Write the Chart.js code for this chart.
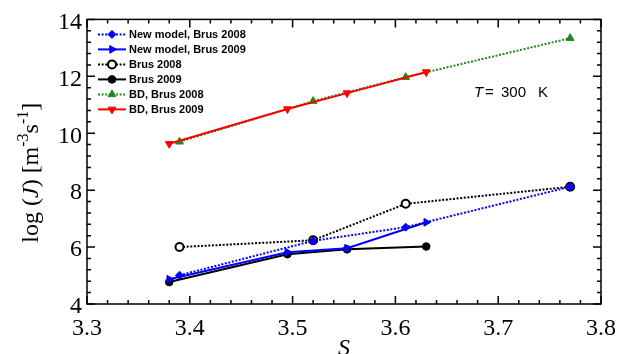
<!DOCTYPE html>
<html>
<head>
<meta charset="utf-8">
<script src="https://cdn.jsdelivr.net/npm/chart.js@4/dist/chart.umd.min.js"></script>
<style>
  html, body { margin: 0; padding: 0; background: #fff; }
  #wrap { width: 633px; height: 354px; }
</style>
</head>
<body>
<div id="wrap"><canvas id="c" width="633" height="354"></canvas></div>
<script>
// Supersaturation values of the two experimental sets
const supersat2008 = [3.39, 3.52, 3.61, 3.77];
const supersat2009 = [3.38, 3.495, 3.553, 3.63];

// log10 of nucleation rate J [m^-3 s^-1]
const newModel2008 = [5.01, 6.22, 6.70, 8.12];
const newModel2009 = [4.87, 5.82, 5.96, 6.87];
const brus2008     = [6.00, 6.24, 7.52, 8.12];
const brus2009     = [4.77, 5.75, 5.92, 6.02];
const bd2008       = [9.70, 11.13, 11.97, 13.34];
const bd2009       = [9.63, 10.85, 11.41, 12.15];

const seriesLabels = [
  'New model, Brus 2008',
  'New model, Brus 2009',
  'Brus 2008',
  'Brus 2009',
  'BD, Brus 2008',
  'BD, Brus 2009'
];

// axis ranges and tick steps
const xRange = [3.3, 3.8];
const yRange = [4, 14];
const xMajorStep = 0.1, xMinorPerMajor = 5;
const yMajorStep = 2,   yMinorPerMajor = 5;

const serif = "'Liberation Serif', 'Times New Roman', Times, serif";
const sans  = "'Liberation Sans', Arial, Helvetica, sans-serif";

const BLUE = '#0000ff', BLACK = '#000000', GREEN = '#1e8a1e', RED = '#ff0000';
const DOTS = [2, 1.6];

function pts(xs, ys) { return xs.map((v, i) => ({ x: v, y: ys[i] })); }

const datasets = [
  { label: seriesLabels[0], data: pts(supersat2008, newModel2008), borderColor: BLUE, backgroundColor: BLUE,
    borderDash: DOTS, pointStyle: 'rectRot', pointRadius: 4, pointBackgroundColor: BLUE, pointBorderColor: BLUE, pointBorderWidth: 1, order: 0 },
  { label: seriesLabels[1], data: pts(supersat2009, newModel2009), borderColor: BLUE, backgroundColor: BLUE,
    pointStyle: 'triangle', pointRotation: 90, pointRadius: 4.5, pointBackgroundColor: BLUE, pointBorderColor: BLUE, pointBorderWidth: 1, order: 1 },
  { label: seriesLabels[2], data: pts(supersat2008, brus2008), borderColor: BLACK, backgroundColor: '#fff',
    borderDash: DOTS, pointStyle: 'circle', pointRadius: 4, pointBackgroundColor: '#fff', pointBorderColor: BLACK, pointBorderWidth: 2, order: 2 },
  { label: seriesLabels[3], data: pts(supersat2009, brus2009), borderColor: BLACK, backgroundColor: BLACK,
    pointStyle: 'circle', pointRadius: 3.8, pointBackgroundColor: BLACK, pointBorderColor: BLACK, pointBorderWidth: 1, order: 3 },
  { label: seriesLabels[4], data: pts(supersat2008, bd2008), borderColor: GREEN, backgroundColor: GREEN,
    borderDash: DOTS, pointStyle: 'triangle', pointRadius: 4.5, pointBackgroundColor: GREEN, pointBorderColor: GREEN, pointBorderWidth: 1, order: 5 },
  { label: seriesLabels[5], data: pts(supersat2009, bd2009), borderColor: RED, backgroundColor: RED,
    pointStyle: 'triangle', pointRotation: 180, pointRadius: 4.5, pointBackgroundColor: RED, pointBorderColor: RED, pointBorderWidth: 1, order: 4 }
];
datasets.forEach(d => { d.borderWidth = 2; d.tension = 0; d.fill = false; });

// Closed frame with inward major/minor ticks on all four sides
const frameTicks = {
  id: 'frameTicks',
  afterDatasetsDraw(chart) {
    const { ctx, chartArea: a, scales: { x, y } } = chart;
    ctx.save();
    ctx.strokeStyle = '#000';
    ctx.lineWidth = 1.5;
    ctx.beginPath();
    const nx = Math.round((xRange[1] - xRange[0]) / xMajorStep) * xMinorPerMajor;
    for (let i = 0; i <= nx; i++) {
      const px = x.getPixelForValue(xRange[0] + i * xMajorStep / xMinorPerMajor);
      const len = i % xMinorPerMajor === 0 ? 8 : 4;
      ctx.moveTo(px, a.bottom); ctx.lineTo(px, a.bottom - len);
      ctx.moveTo(px, a.top);    ctx.lineTo(px, a.top + len);
    }
    const ny = Math.round((yRange[1] - yRange[0]) / yMajorStep) * yMinorPerMajor;
    for (let i = 0; i <= ny; i++) {
      const py = y.getPixelForValue(yRange[0] + i * yMajorStep / yMinorPerMajor);
      const len = i % yMinorPerMajor === 0 ? 8 : 4;
      ctx.moveTo(a.left, py);  ctx.lineTo(a.left + len, py);
      ctx.moveTo(a.right, py); ctx.lineTo(a.right - len, py);
    }
    ctx.stroke();
    ctx.strokeRect(a.left, a.top, a.right - a.left, a.bottom - a.top);
    ctx.restore();
  }
};

// Legend inside the plot: line sample + marker + bold label
const innerLegend = {
  id: 'innerLegend',
  afterDraw(chart) {
    const { ctx, chartArea: a } = chart;
    ctx.save();
    chart.data.datasets.forEach((ds, i) => {
      const yy = a.top + 15 + i * 15;
      const x0 = a.left + 11, x1 = a.left + 39, xm = (x0 + x1) / 2;
      ctx.strokeStyle = ds.borderColor;
      ctx.lineWidth = 2;
      ctx.setLineDash(ds.borderDash || []);
      ctx.beginPath(); ctx.moveTo(x0, yy); ctx.lineTo(x1, yy); ctx.stroke();
      ctx.setLineDash([]);
      const el = chart.getDatasetMeta(i).data[0];
      const o = el.options;
      ctx.fillStyle = o.backgroundColor;
      ctx.strokeStyle = o.borderColor;
      ctx.lineWidth = o.borderWidth;
      Chart.helpers.drawPoint(ctx, { pointStyle: o.pointStyle, radius: o.radius, rotation: o.rotation, borderWidth: o.borderWidth }, xm, yy);
      ctx.fillStyle = '#000';
      ctx.font = "bold 11px " + sans;
      ctx.textAlign = 'left';
      ctx.textBaseline = 'middle';
      ctx.fillText(ds.label, x1 + 3, yy + 0.5);
    });
    ctx.restore();
  }
};

// Rotated y-axis title with italic J and superscripts, plus temperature note
const extraText = {
  id: 'extraText',
  afterDraw(chart) {
    const { ctx, chartArea: a } = chart;
    ctx.save();
    const big = "24px " + serif, ital = "italic 24px " + serif, small = "16px " + serif;
    const parts = [
      ['log (', big, 0], ['J', ital, 0], [') [m', big, 0], ['-3', small, 10],
      ['s', big, 0], ['-1', small, 10], [']', big, 0]
    ];
    let total = 0;
    parts.forEach(p => { ctx.font = p[1]; total += ctx.measureText(p[0]).width; });
    ctx.translate(a.left - 49, (a.top + a.bottom) / 2 + 11);
    ctx.rotate(-Math.PI / 2);
    ctx.fillStyle = '#000';
    ctx.textBaseline = 'alphabetic';
    ctx.textAlign = 'left';
    let cx = -total / 2;
    parts.forEach(p => { ctx.font = p[1]; ctx.fillText(p[0], cx, -p[2]); cx += ctx.measureText(p[0]).width; });
    ctx.restore();

    ctx.save();
    ctx.fillStyle = '#000';
    ctx.textBaseline = 'middle';
    ctx.textAlign = 'left';
    const tx = a.right - 127, ty = a.top + 73;
    ctx.font = "italic 15px " + sans;
    ctx.fillText('T', tx, ty);
    ctx.font = "15px " + sans;
    ctx.fillText('=', tx + 11, ty);
    ctx.fillText('300', tx + 27, ty);
    ctx.fillText('K', tx + 64, ty);
    ctx.restore();
  }
};

new Chart(document.getElementById('c'), {
  type: 'line',
  data: { datasets },
  plugins: [frameTicks, innerLegend, extraText],
  options: {
    responsive: false,
    animation: false,
    events: [],
    layout: { padding: { top: 18, right: 32, left: 0, bottom: 0 } },
    plugins: { legend: { display: false }, tooltip: { enabled: false } },
    scales: {
      x: {
        type: 'linear', min: xRange[0], max: xRange[1],
        grid: { display: false, drawTicks: false },
        border: { display: false },
        ticks: { stepSize: xMajorStep, padding: 10, color: '#000', font: { family: serif, size: 24 },
                 callback: v => v.toFixed(1), maxRotation: 0 },
        title: { display: true, text: 'S', color: '#000', font: { family: serif, size: 24, style: 'italic', lineHeight: 1 },
                 padding: { top: 0, bottom: -7 } },
        afterFit: s => { s.height = 50; }
      },
      y: {
        type: 'linear', min: yRange[0], max: yRange[1],
        grid: { display: false, drawTicks: false },
        border: { display: false },
        ticks: { stepSize: yMajorStep, padding: 5, labelOffset: 3, color: '#000', font: { family: serif, size: 24 } },
        afterFit: s => { s.width = 87; }
      }
    }
  }
});
</script>
</body>
</html>
